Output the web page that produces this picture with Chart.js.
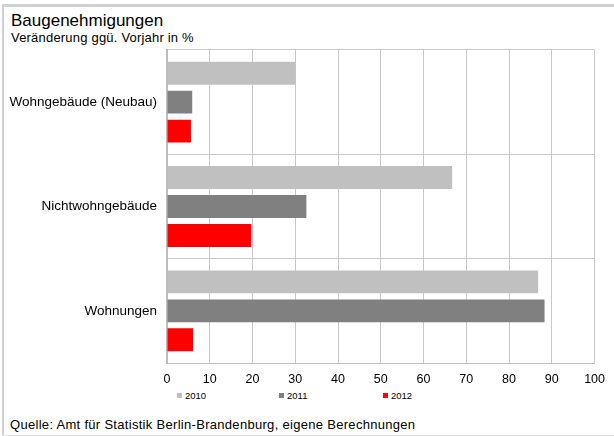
<!DOCTYPE html>
<html><head><meta charset="utf-8">
<script src="https://cdn.jsdelivr.net/npm/chart.js@4"></script>
<style>
html,body{margin:0;padding:0;background:#fff;}
#wrap{position:relative;width:614px;height:436px;overflow:hidden;font-family:"Liberation Sans",Arial,sans-serif;color:#000;}
#frameTop{position:absolute;left:2px;top:4px;width:612px;height:3px;background:#d0d0d0;}
#frameLeft{position:absolute;left:2px;top:4px;width:2px;height:432px;background:#d0d0d0;}
#frameBot{position:absolute;left:2px;top:435px;width:612px;height:1px;background:#e4e4e4;}
#title{position:absolute;left:11px;top:11px;font-size:17px;white-space:nowrap;}
#sub{position:absolute;left:11px;top:29.5px;font-size:13px;letter-spacing:0.2px;white-space:nowrap;}
#src{position:absolute;left:10px;top:417px;font-size:13px;letter-spacing:0.3px;white-space:nowrap;}
.lg{position:absolute;top:389px;font-size:9.5px;line-height:13px;white-space:nowrap;}
.lg i{display:inline-block;width:5px;height:5px;margin-right:3px;vertical-align:1px;}
canvas{position:absolute;left:0;top:0;}
</style>
</head><body>
<div id="wrap">
  <div id="frameTop"></div><div id="frameLeft"></div><div id="frameBot"></div>
  <div id="title">Baugenehmigungen</div>
  <div id="sub">Veränderung ggü. Vorjahr in %</div>
  <div id="src">Quelle: Amt für Statistik Berlin-Brandenburg, eigene Berechnungen</div>
  <div id="legend"></div>
  <canvas id="c" width="614" height="436"></canvas>
</div>
<script>
const categories = ["Wohngebäude (Neubau)", "Nichtwohngebäude", "Wohnungen"];
const seriesNames = ["2010", "2011", "2012"];
const values2010 = [30.1, 66.7, 86.8];
const values2011 = [5.9, 32.6, 88.3];
const values2012 = [5.6, 19.7, 6.1];
const xTicks = [0, 10, 20, 30, 40, 50, 60, 70, 80, 90, 100];

const colors = ["#c0c0c0", "#808080", "#ff0000"];
const allValues = [values2010, values2011, values2012];

// HTML legend built from series names
const legendX = [177, 279, 383];
const lg = document.getElementById('legend');
seriesNames.forEach((n, i) => {
  const d = document.createElement('div');
  d.className = 'lg';
  d.style.left = legendX[i] + 'px';
  d.innerHTML = '<i style="background:' + colors[i] + '"></i>' + n;
  lg.appendChild(d);
});

new Chart(document.getElementById('c'), {
  type: 'bar',
  data: {
    labels: categories,
    datasets: seriesNames.map((n, i) => ({
      label: n,
      data: allValues[i],
      backgroundColor: colors[i],
      borderWidth: 0,
      categoryPercentage: 0.833,
      barPercentage: 0.79
    }))
  },
  options: {
    indexAxis: 'y',
    responsive: false,
    animation: false,
    events: [],
    layout: { padding: { top: 50, right: 18, left: 0, bottom: 0 } },
    plugins: { legend: { display: false }, title: { display: false }, tooltip: { enabled: false } },
    scales: {
      x: {
        min: 0, max: 100,
        afterBuildTicks: (s) => { s.ticks = xTicks.map(v => ({ value: v })); },
        afterFit: (s) => { s.height = 73; },
        grid: { color: '#c8c8c8', lineWidth: 1, drawTicks: false },
        border: { color: '#c0c0c0', width: 1 },
        ticks: { color: '#000', padding: 9, font: { family: 'Liberation Sans', size: 12.5 } }
      },
      y: {
        afterFit: (s) => { s.width = 167; },
        grid: { color: '#c8c8c8', lineWidth: 1, drawTicks: false },
        border: { color: '#bdbdbd', width: 2 },
        ticks: { color: '#000', padding: 10, font: { family: 'Liberation Sans', size: 13.5 } }
      }
    }
  }
});
</script>
</body></html>
